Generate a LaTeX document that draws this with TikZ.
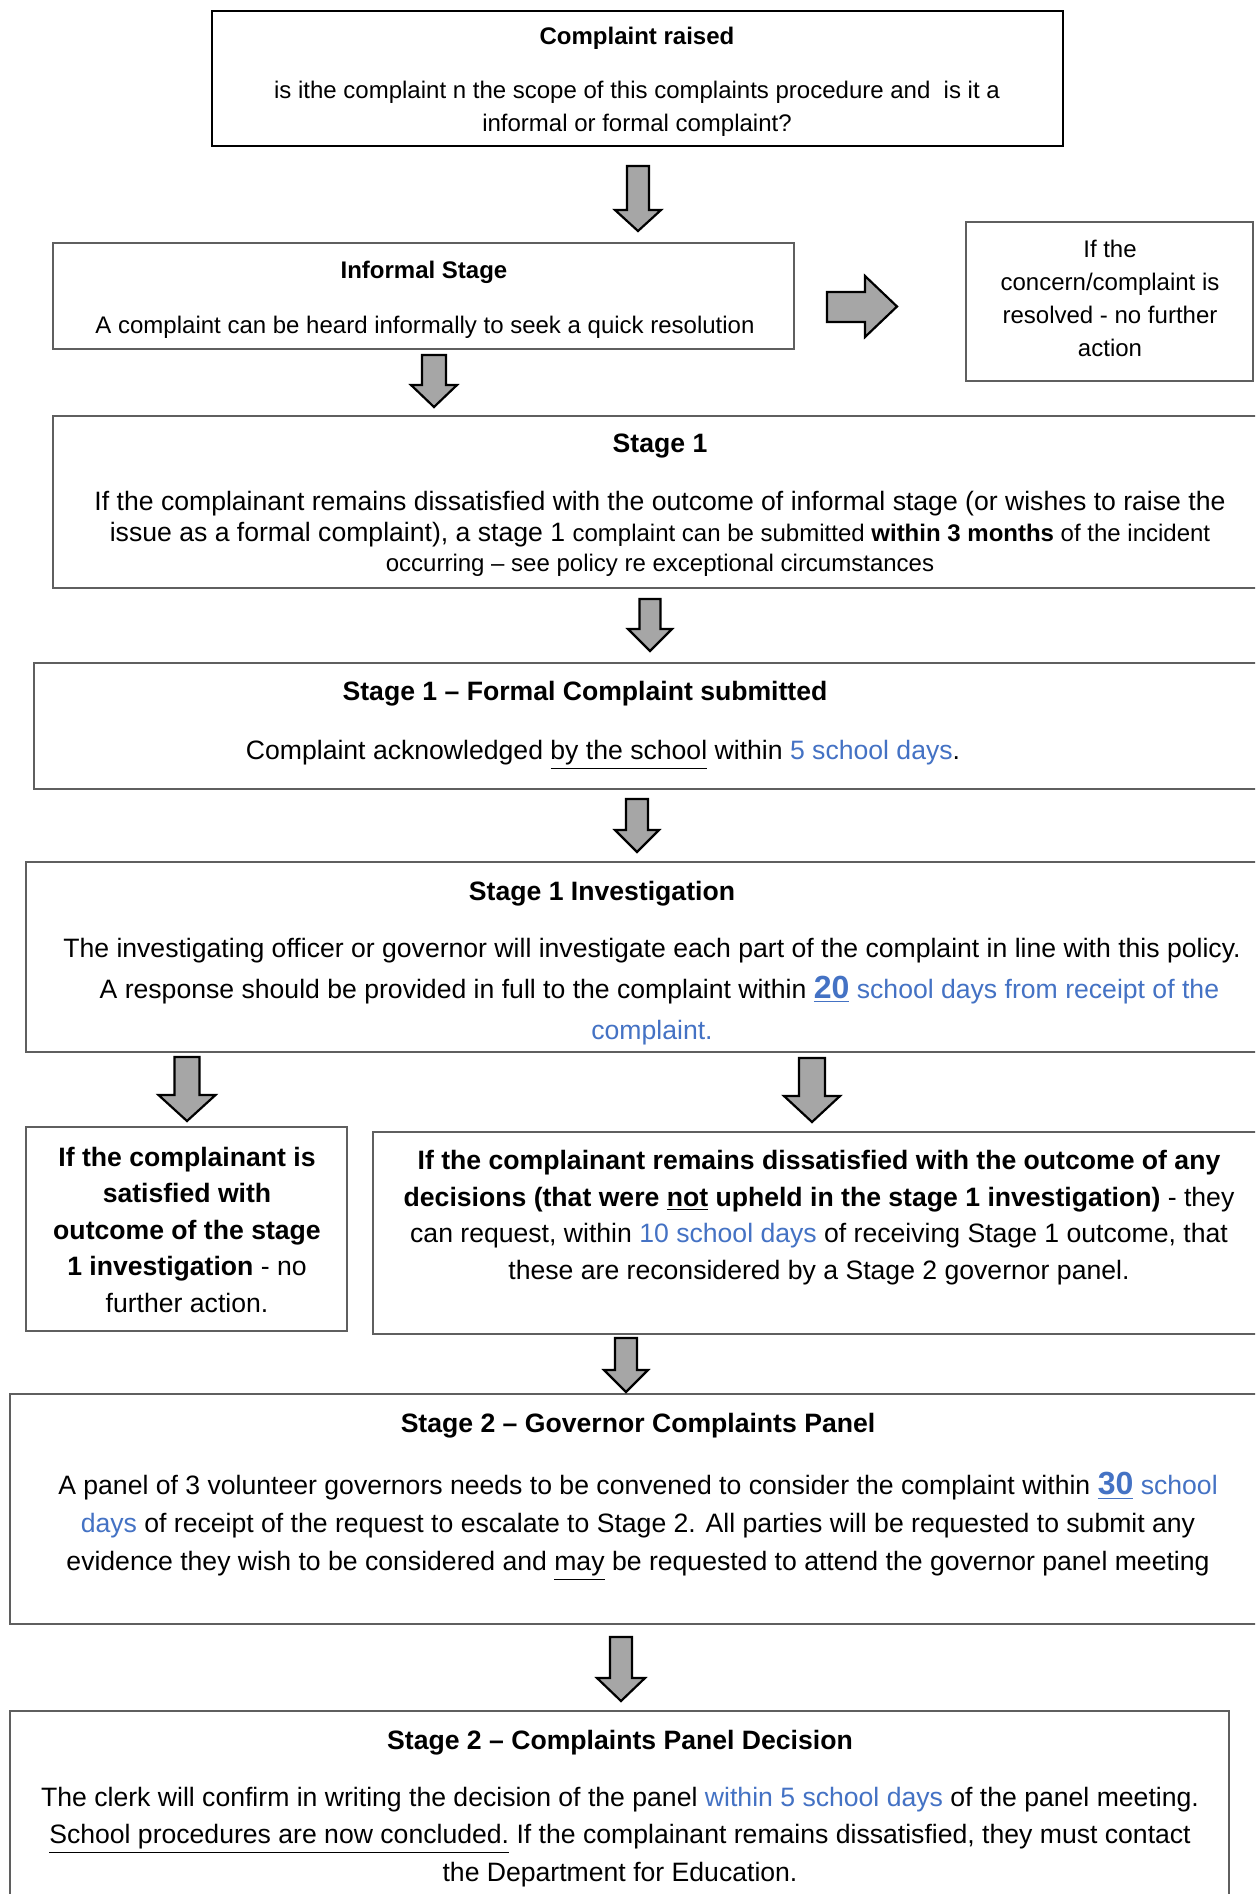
\documentclass[tikz,border=0pt]{standalone}
\usepackage{fontspec}
\setmainfont{Liberation Sans}
\usetikzlibrary{fit}
\definecolor{lblue}{RGB}{68,114,196}
\definecolor{bordergray}{RGB}{95,95,95}
\definecolor{arrowgray}{RGB}{166,166,166}
\newcommand{\fsS}{\fontsize{12}{16.5}\selectfont}
\newcommand{\bignum}[1]{\textcolor{lblue}{\fontsize{16}{16}\selectfont\bfseries\underline{#1}}}
\newcommand{\dnarrow}[6]{%
  \draw[blockarrow] (#1-#4,#2) -- (#1+#4,#2) -- (#1+#4,#3-#6) -- (#1+#5,#3-#6) -- (#1,#3) -- (#1-#5,#3-#6) -- (#1-#4,#3-#6) -- cycle;}
\begin{document}
\begin{tikzpicture}[x=0.5pt,y=-0.5pt,
  graybox/.style={draw=bordergray, line width=1.25pt, inner sep=0pt, outer sep=0pt, fill=white},
  blackbox/.style={draw=black, line width=0.75pt, inner sep=0pt, outer sep=0pt, fill=white},
  txt/.style={align=center, inner sep=0pt, text=black},
  blockarrow/.style={draw=black, fill=arrowgray, line width=1.1pt, line join=miter}]
\useasboundingbox (0,0) rectangle (1255,1894);
\clip (0,0) rectangle (1255,1894);
\fill[white] (0,0) rectangle (1255,1894);

% boxes
\node[blackbox, fit={(212,11) (1063,146)}] (b1) {};
\node[graybox, fit={(53,243) (794,349)}] (b2) {};
\node[graybox, fit={(966,222) (1253,381)}] (b3) {};
\node[graybox, fit={(53,416) (1270,588)}] (b4) {};
\node[graybox, fit={(34,663) (1270,789)}] (b5) {};
\node[graybox, fit={(26,862) (1270,1052)}] (b6) {};
\node[graybox, fit={(26,1127) (347,1331)}] (b7) {};
\node[graybox, fit={(373,1132) (1270,1334)}] (b8) {};
\node[graybox, fit={(10,1394) (1270,1624)}] (b9) {};
\node[graybox, fit={(10,1711) (1229,1920)}] (b10) {};

% arrows
\dnarrow{638}{166}{231}{11}{23}{21}
\dnarrow{434}{355}{407}{12}{23}{22}
\dnarrow{650}{599}{651}{10.5}{22}{22}
\dnarrow{637}{799}{852}{11}{22}{22}
\dnarrow{187}{1057}{1121}{12.5}{28.5}{26}
\dnarrow{812}{1058}{1122}{13}{28}{26}
\dnarrow{626}{1338}{1392}{11}{22}{22}
\dnarrow{621}{1637}{1701}{11}{24}{23}
\draw[blockarrow] (827,292) -- (865,292) -- (865,276) -- (897,306.5) -- (865,337) -- (865,322) -- (827,322) -- cycle;

% box 1
\node[txt, font={\bfseries\fsS}] (t1) at (637,38) {Complaint raised};
\node[txt, font={\fsS}] (p1) at (637,108.5) {is ithe complaint n the scope of this complaints procedure and~ is it a\\informal or formal complaint?};

% informal
\node[txt, font={\bfseries\fsS}] (t2) at (424,272) {Informal Stage};
\node[txt, font={\fsS}] (p2) at (425,327) {A complaint can be heard informally to seek a quick resolution};

% resolved
\node[txt, font={\fsS}] (p3) at (1110,298) {If the\\concern/complaint is\\resolved - no further\\action};

% stage 1
\node[txt, font={\bfseries\fontsize{13.3}{16}\selectfont}] (t4) at (660,446.5) {Stage 1};
\node[txt, font={\fontsize{13.3}{15.25}\selectfont}] (p4) at (660,534) {If the complainant remains dissatisfied with the outcome of informal stage (or wishes to raise the\\issue as a formal complaint), a stage 1 {\fsS complaint can be submitted \textbf{within 3 months} of the incident}\\{\fsS occurring – see policy re exceptional circumstances}};

% stage 1 formal
\node[txt, font={\bfseries\fontsize{13.3}{16}\selectfont}] (t5) at (585,694) {Stage 1 – Formal Complaint submitted};
\node[txt, font={\fontsize{13.3}{16}\selectfont}] (p5) at (603,755) {Complaint acknowledged \underline{by the school} within \textcolor{lblue}{5 school days}.};

% investigation
\node[txt, font={\bfseries\fontsize{13.3}{16}\selectfont}] (t6) at (602,893.5) {Stage 1 Investigation};
\node[txt, font={\fontsize{13.3}{20.5}\selectfont}] (p6) at (652,991.5) {The investigating officer or governor will investigate each part of the complaint in line with this policy.\\~~A response should be provided in full to the complaint within \bignum{20} \textcolor{lblue}{school days from receipt of the}\\\textcolor{lblue}{complaint.}};

% outcomes
\node[txt, font={\fontsize{13.3}{18.25}\selectfont}] (p7) at (187,1229.5) {\textbf{If the complainant is}\\\textbf{satisfied with}\\\textbf{outcome of the stage}\\\textbf{1 investigation} - no\\further action.};
\node[txt, font={\fontsize{13.3}{18.35}\selectfont}] (p8) at (819,1217.5) {\textbf{If the complainant remains dissatisfied with the outcome of any}\\\textbf{decisions (that were \underline{not} upheld in the stage 1 investigation)} - they\\can request, within \textcolor{lblue}{10 school days} of receiving Stage 1 outcome, that\\these are reconsidered by a Stage 2 governor panel.};

% stage 2 governor
\node[txt, font={\bfseries\fontsize{13.3}{16}\selectfont}] (t9) at (638,1426) {Stage 2 – Governor Complaints Panel};
\node[txt, font={\fontsize{13.3}{19}\selectfont}] (p9) at (638,1526.5) {A panel of 3 volunteer governors needs to be convened to consider the complaint within \bignum{30} \textcolor{lblue}{school}\\\textcolor{lblue}{days} of receipt of the request to escalate to Stage 2. All parties will be requested to submit any\\evidence they wish to be considered and \underline{may} be requested to attend the governor panel meeting};

% stage 2 decision
\node[txt, font={\bfseries\fontsize{13.3}{16}\selectfont}] (t10) at (620,1742.5) {Stage 2 – Complaints Panel Decision};
\node[txt, font={\fontsize{13.3}{18.75}\selectfont}] (p10) at (620,1837) {The clerk will confirm in writing the decision of the panel \textcolor{lblue}{within 5 school days} of the panel meeting.\\\underline{School procedures are now concluded.} If the complainant remains dissatisfied, they must contact\\the Department for Education.};
\end{tikzpicture}
\end{document}
